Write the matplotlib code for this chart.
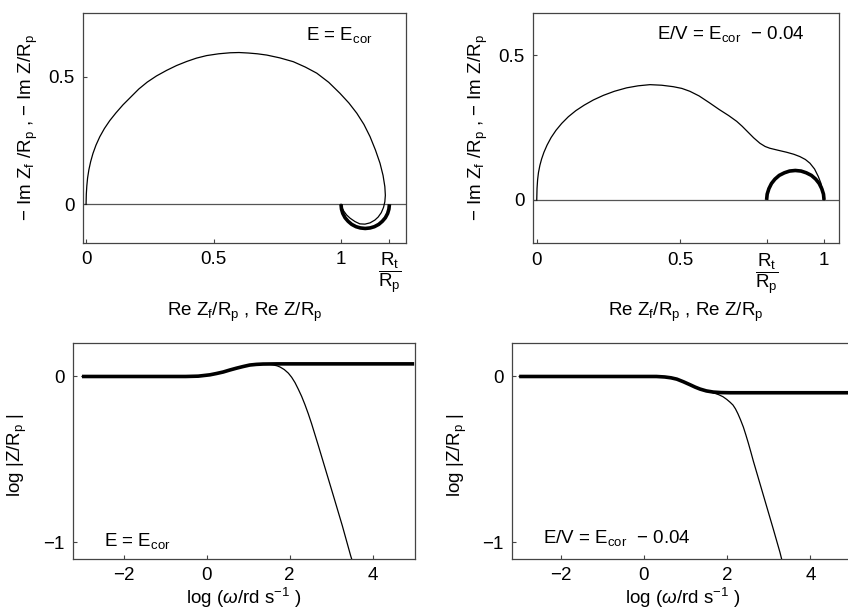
import matplotlib
matplotlib.use("Agg")
import matplotlib.pyplot as plt

plt.rcParams['font.family'] = ['Liberation Sans', 'DejaVu Sans']
plt.rcParams['mathtext.fontset'] = 'custom'
plt.rcParams['mathtext.rm'] = 'Liberation Sans'
plt.rcParams['mathtext.it'] = 'Liberation Sans:italic'
plt.rcParams['mathtext.sf'] = 'Liberation Sans'
plt.rcParams['mathtext.bf'] = 'Liberation Sans:bold'

# ---------------- data ----------------
# Top-left: E = Ecor, Nyquist (thick = Zf, thin = Z)
tl_zf_re = [1.190, 1.188, 1.183, 1.174, 1.162, 1.148, 1.131, 1.114, 1.095,
            1.076, 1.059, 1.042, 1.028, 1.016, 1.007, 1.002, 1.000]
tl_zf_im = [0.000, -0.019, -0.036, -0.053, -0.067, -0.079, -0.088, -0.093, -0.095,
            -0.093, -0.088, -0.079, -0.067, -0.053, -0.036, -0.019, 0.000]
tl_z_re = [0.000, 0.001, 0.003, 0.006, 0.011, 0.018, 0.027, 0.039, 0.054, 0.072,
           0.093, 0.117, 0.145, 0.175, 0.207, 0.240, 0.276, 0.316, 0.355, 0.395,
           0.433, 0.473, 0.520, 0.565, 0.600, 0.637, 0.672, 0.709, 0.760, 0.813,
           0.860, 0.905, 0.952, 0.996, 1.031, 1.062, 1.090, 1.114, 1.135, 1.153,
           1.165, 1.172, 1.174, 1.172, 1.167, 1.158, 1.146, 1.133, 1.114, 1.094,
           1.074, 1.055, 1.036, 1.022, 1.011, 1.004, 1.000]
tl_z_im = [0.000, 0.040, 0.072, 0.103, 0.135, 0.167, 0.199, 0.232, 0.265, 0.297,
           0.328, 0.358, 0.390, 0.420, 0.452, 0.479, 0.503, 0.525, 0.544, 0.560,
           0.573, 0.583, 0.590, 0.594, 0.595, 0.593, 0.590, 0.585, 0.574, 0.559,
           0.538, 0.514, 0.478, 0.435, 0.397, 0.357, 0.313, 0.265, 0.213, 0.161,
           0.113, 0.069, 0.035, 0.010, -0.012, -0.033, -0.050, -0.062, -0.073, -0.078,
           -0.077, -0.068, -0.055, -0.042, -0.027, -0.013, 0.000]

# Top-right: E/V = Ecor - 0.04, Nyquist
tr_zf_re = [0.800, 0.802, 0.808, 0.817, 0.829, 0.844, 0.862, 0.880, 0.900,
            0.920, 0.938, 0.956, 0.971, 0.983, 0.992, 0.998, 1.000]
tr_zf_im = [0.000, 0.020, 0.039, 0.057, 0.072, 0.085, 0.094, 0.100, 0.102,
            0.100, 0.094, 0.085, 0.072, 0.057, 0.039, 0.020, 0.000]
tr_z_re = [0.000, 0.001, 0.003, 0.006, 0.011, 0.017, 0.025, 0.036, 0.050, 0.067,
           0.087, 0.110, 0.136, 0.165, 0.197, 0.232, 0.270, 0.313, 0.353, 0.394,
           0.435, 0.475, 0.505, 0.533, 0.565, 0.600, 0.635, 0.668, 0.696, 0.715,
           0.730, 0.755, 0.777, 0.795, 0.811, 0.840, 0.870, 0.895, 0.916, 0.935,
           0.951, 0.967, 0.980, 0.989, 0.995, 0.999, 1.000]
tr_z_im = [0.000, 0.040, 0.070, 0.095, 0.120, 0.142, 0.165, 0.190, 0.216, 0.241,
           0.265, 0.288, 0.309, 0.328, 0.346, 0.362, 0.376, 0.388, 0.395, 0.399,
           0.397, 0.392, 0.386, 0.376, 0.360, 0.337, 0.313, 0.292, 0.272, 0.255,
           0.240, 0.215, 0.196, 0.185, 0.179, 0.172, 0.165, 0.158, 0.150, 0.140,
           0.127, 0.107, 0.081, 0.058, 0.035, 0.015, 0.000]

# Bottom-left: E = Ecor, Bode modulus
bl_zf_logw = [-3.0, -0.5, -0.2, 0.08, 0.24, 0.40, 0.56, 0.72, 0.88, 1.04, 1.20, 1.36, 1.70, 5.0]
bl_zf_logz = [0.0, 0.0, 0.002, 0.010, 0.018, 0.027, 0.039, 0.050, 0.060, 0.069, 0.073, 0.075, 0.076, 0.076]
bl_z_logw = [-3.0, -0.5, -0.2, 0.08, 0.24, 0.40, 0.56, 0.72, 0.88, 1.04, 1.20, 1.36, 1.50,
             1.60, 1.70, 1.77, 1.87, 1.97, 2.05, 2.13, 2.21, 2.29, 2.37, 2.45, 2.53,
             2.61, 2.69, 2.81, 3.05, 3.27, 3.47, 3.52]
bl_z_logz = [0.0, 0.0, 0.002, 0.010, 0.018, 0.027, 0.039, 0.050, 0.060, 0.069, 0.073, 0.075, 0.074,
             0.070, 0.064, 0.057, 0.042, 0.020, -0.005, -0.037, -0.077, -0.120, -0.170, -0.225, -0.285,
             -0.350, -0.415, -0.515, -0.715, -0.900, -1.080, -1.120]

# Bottom-right: E/V = Ecor - 0.04, Bode modulus
br_zf_logw = [-3.0, 0.30, 0.50, 0.65, 0.79, 0.95, 1.11, 1.23, 1.35, 1.50, 1.67, 1.85, 2.07, 5.1]
br_zf_logz = [0.0, 0.0, -0.003, -0.008, -0.016, -0.032, -0.050, -0.064, -0.076, -0.087, -0.094, -0.097, -0.098, -0.098]
br_z_logw = [-3.0, 0.30, 0.50, 0.65, 0.79, 0.95, 1.11, 1.23, 1.35, 1.50, 1.60, 1.70, 1.80,
             1.90, 1.99, 2.07, 2.14, 2.20, 2.26, 2.32, 2.39, 2.45, 2.51, 2.57, 2.63,
             2.87, 3.11, 3.27, 3.32]
br_z_logz = [0.0, 0.0, -0.003, -0.008, -0.016, -0.032, -0.050, -0.064, -0.076, -0.087, -0.093, -0.101, -0.110,
             -0.122, -0.138, -0.155, -0.172, -0.195, -0.225, -0.260, -0.305, -0.352, -0.402, -0.455, -0.510,
             -0.715, -0.920, -1.060, -1.110]

frac = r'$\dfrac{\mathrm{R_t}}{\mathrm{R_p}}$'
tl_xticks = [0, 0.5, 1, 1.19]
tl_xlabels = ['0', '0.5', '1', frac]
tr_xticks = [0, 0.5, 0.8, 1]
tr_xlabels = ['0', '0.5', frac, '1']
top_yticks = [0, 0.5]
top_ylabels = ['0', '0.5']
bot_xticks = [-2, 0, 2, 4]
bot_xlabels = ['\u22122', '0', '2', '4']
bot_yticks = [0, -1]
bot_ylabels = ['0', '\u22121']

label_top_x = r'Re Z$_\mathrm{f}$/R$_\mathrm{p}$ , Re Z/R$_\mathrm{p}$'
label_top_y = '\u2212 Im Z$_\\mathrm{f}$ /R$_\\mathrm{p}$ , \u2212 Im Z/R$_\\mathrm{p}$'
label_bot_x = 'log ($\\mathit{\u03c9}$/rd s$^{\u22121}$ )'
label_bot_y = r'log |Z/R$_\mathrm{p}$ |'
txt1 = r'E = E$_\mathrm{cor}$'
txt2 = 'E/V = E$_\\mathrm{cor}$  \u2212 0.04'

# ---------------- figure ----------------
W, H = 848, 612
fig = plt.figure(figsize=(W / 100, H / 100), dpi=100)

def ax_px(l, t, r, b):
    return fig.add_axes([l / W, 1 - b / H, (r - l) / W, (b - t) / H])

FS = 13.5
SPC = '#444444'
thin_lw = 0.9
thick_lw = 2.6

def style(ax):
    for s in ax.spines.values():
        s.set_color(SPC)
        s.set_linewidth(0.9)
    ax.tick_params(direction='in', length=3, width=0.8, color=SPC,
                   labelsize=FS, pad=6)

ax1 = ax_px(83, 13, 406, 243)
ax2 = ax_px(533.3, 12.7, 839, 243.3)
ax3 = ax_px(73.3, 343.3, 415, 559)
ax4 = ax_px(511.7, 343.3, 854, 559)

# Top-left
ax1.axhline(0, color='#555555', lw=0.9, zorder=1)
ax1.plot(tl_zf_re, tl_zf_im, color='black', lw=thick_lw, solid_capstyle='butt', zorder=2)
ax1.plot(tl_z_re, tl_z_im, color='black', lw=thin_lw, zorder=3)
ax1.set_xlim(-0.012, 1.255)
ax1.set_ylim(-0.152, 0.75)
ax1.set_xticks(tl_xticks, tl_xlabels)
ax1.set_yticks(top_yticks, top_ylabels)
ax1.text(0.795, 0.904, txt1, transform=ax1.transAxes, ha='center', va='center', fontsize=FS)

# Top-right
ax2.axhline(0, color='#555555', lw=0.9, zorder=1)
ax2.plot(tr_zf_re, tr_zf_im, color='black', lw=thick_lw, solid_capstyle='butt', zorder=2)
ax2.plot(tr_z_re, tr_z_im, color='black', lw=thin_lw, zorder=3)
ax2.set_xlim(-0.012, 1.052)
ax2.set_ylim(-0.15, 0.648)
ax2.set_xticks(tr_xticks, tr_xlabels)
ax2.set_yticks(top_yticks, top_ylabels)
ax2.text(0.646, 0.906, txt2, transform=ax2.transAxes, ha='center', va='center', fontsize=FS)

for ax, yx in ((ax1, -0.170), (ax2, -0.178)):
    style(ax)
    ax.set_xlabel(label_top_x, fontsize=FS)
    ax.set_ylabel(label_top_y, fontsize=FS)
    ax.xaxis.set_label_coords(0.5, -0.30)
    ax.xaxis.label.set_va('center')
    ax.yaxis.set_label_coords(yx, 0.5)
    ax.yaxis.label.set_va('center')

# Bottom-left
ax3.plot(bl_zf_logw, bl_zf_logz, color='black', lw=thick_lw, solid_capstyle='butt', zorder=2)
ax3.plot(bl_z_logw, bl_z_logz, color='black', lw=thin_lw, zorder=3)
ax3.set_xlim(-3.21, 5.02)
ax3.text(-1.66, -0.99, txt1, ha='center', va='center', fontsize=FS)

# Bottom-right
ax4.plot(br_zf_logw, br_zf_logz, color='black', lw=thick_lw, solid_capstyle='butt', zorder=2)
ax4.plot(br_z_logw, br_z_logz, color='black', lw=thin_lw, zorder=3)
ax4.set_xlim(-3.18, 5.05)
ax4.text(-0.66, -0.976, txt2, ha='center', va='center', fontsize=FS)

for ax, yx in ((ax3, -0.165), (ax4, -0.16)):
    style(ax)
    ax.set_ylim(-1.10, 0.20)
    ax.set_xticks(bot_xticks, bot_xlabels)
    ax.set_yticks(bot_yticks, bot_ylabels)
    ax.set_xlabel(label_bot_x, fontsize=FS)
    ax.set_ylabel(label_bot_y, fontsize=FS)
    ax.xaxis.set_label_coords(0.5, -0.18)
    ax.xaxis.label.set_va('center')
    ax.yaxis.set_label_coords(yx, 0.48)
    ax.yaxis.label.set_va('center')

fig.savefig('out.png', dpi=100)
